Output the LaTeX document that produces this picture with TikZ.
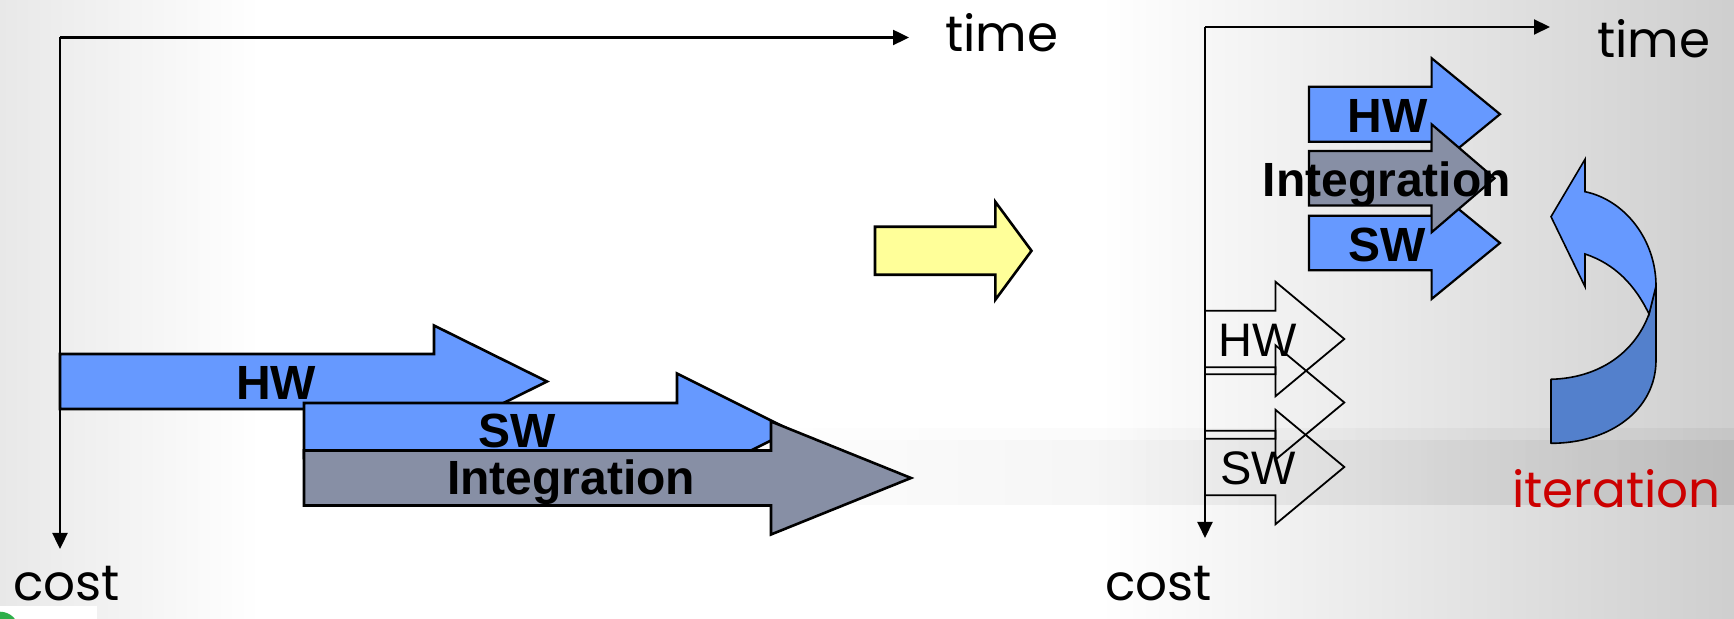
\documentclass[tikz,border=0pt]{standalone}
\usepackage{fontspec}
\setmainfont{Liberation Sans}
\newfontfamily\comicfont{Poppins}
\usetikzlibrary{arrows.meta,fadings}
\definecolor{hwblue}{HTML}{6699FF}
\definecolor{intgray}{HTML}{878FA5}
\definecolor{yel}{HTML}{FFFF99}
\definecolor{darkblue}{HTML}{5380CC}
\definecolor{itred}{HTML}{CC0000}
\definecolor{grn}{HTML}{2EAE4A}
% style, x-left, y-centre, body half height, head base x, head half height, tip x
\newcommand\blkarrow[7]{\draw[#1] (#2,#3-#4) -- (#5,#3-#4) -- (#5,#3-#6) -- (#7,#3) -- (#5,#3+#6) -- (#5,#3+#4) -- (#2,#3+#4) -- cycle;}
\tikzset{
  bigline/.style={draw=black, line width=1.3pt, line join=miter},
  smallline/.style={draw=black, line width=1.1pt, line join=miter},
  hollow/.style={draw=black, line width=0.9pt, line join=miter},
  axis/.style={draw=black, line width=1.2pt, -{Triangle[length=8pt,width=7.5pt]}},
  boldlbl/.style={font=\fontsize{24}{24}\selectfont\bfseries, inner sep=0pt, anchor=base},
  plainlbl/.style={font=\fontsize{23.5}{24}\selectfont, inner sep=0pt, anchor=base},
  hand/.style={font=\fontsize{25}{26}\comicfont, inner sep=0pt, anchor=base west},
}
\begin{document}
\begin{tikzpicture}[x=0.5pt, y=-0.5pt]
\useasboundingbox (0,0) rectangle (1734,619);
% background
\fill[white] (0,0) rectangle (1734,619);
\shade[left color=black!9, right color=white] (0,0) rectangle (260,619);
\shade[left color=white, right color=black!19] (1100,0) rectangle (1734,619);
\fill[black, opacity=0.09, path fading=west] (650,440) rectangle (1734,505);
\fill[black, opacity=0.04, path fading=west] (650,428) rectangle (1734,440);
\fill[white] (0,606) rectangle (97,619);
\fill[grn] (0,630.7) circle (19);

% ---------- left diagram ----------
\coordinate (lo) at (60,37.5);
\coordinate (lt) at (909,37.5);
\coordinate (lc) at (60,549);
\draw[axis] (lo) -- (lt);
\draw[axis] (lo) -- (lc);
\node[hand] (ltime) at (945,51.3) {time};
\node[hand] (lcost) at (13,601) {cost};

\blkarrow{bigline,fill=hwblue}{60}{381.5}{27.5}{434}{56}{547}
\node[boldlbl] (lhw) at (276,400) {HW};
\blkarrow{bigline,fill=hwblue}{304}{430.5}{27.5}{677}{57}{791}
\node[boldlbl] (lsw) at (517.6,448) {SW};
\blkarrow{bigline,fill=intgray}{304}{478}{27.5}{771}{56.5}{911}
\node[boldlbl] (lint) at (571,495) {Integration};

% ---------- transition arrow ----------
\blkarrow{bigline,fill=yel}{875}{250.8}{24}{995.3}{49}{1031.5}

% ---------- right diagram ----------
\coordinate (ro) at (1205,27);
\coordinate (rt) at (1550,27);
\coordinate (rc) at (1205,538);
\draw[axis, line width=1pt] (ro) -- (rt);
\draw[axis, line width=1pt] (ro) -- (rc);
\node[hand] (rtime) at (1597,57.2) {time};
\node[hand] (rcost) at (1105,600) {cost};

\blkarrow{smallline,fill=hwblue}{1309}{114.2}{27.5}{1431.6}{56}{1500}
\node[boldlbl] (rhw) at (1387.5,132.7) {HW};
\blkarrow{smallline,fill=hwblue}{1309}{243}{27.3}{1431.6}{56}{1500}
\node[boldlbl] (rsw) at (1387.6,261.7) {SW};
\blkarrow{smallline,fill=intgray}{1309}{178.3}{27.3}{1431.6}{54}{1494.5}
\node[boldlbl] (rint) at (1386.8,196.7) {Integration};

\blkarrow{hollow}{1205}{339}{28.3}{1275.4}{57.3}{1344.3}
\blkarrow{hollow}{1205}{402.5}{28.3}{1275.4}{57.3}{1344.3}
\blkarrow{hollow}{1205}{467}{28.3}{1275.4}{57.3}{1344.3}
\node[plainlbl] (whw) at (1257.8,356.7) {HW};
\node[plainlbl] (wsw) at (1258,485) {SW};

% iteration curved arrow
\draw[fill=darkblue, draw=black, line width=0.8pt, line join=round]
  (1656,286) -- (1656,360) .. controls (1656,410) and (1610,443.3) .. (1551,443.3)
  -- (1551,379.3) .. controls (1600,378) and (1635,352) .. (1649,314) -- cycle;
\draw[fill=hwblue, draw=black, line width=0.8pt, line join=miter]
  (1585,191.7) .. controls (1625,200) and (1656,240) .. (1656,286)
  -- (1649,314) .. controls (1635,285) and (1615,264) .. (1585,254)
  -- (1585,286.7) -- (1551,216.7) -- (1585,159.3) -- cycle;
\node[hand, text=itred] (iter) at (1512,508) {iteration};
\end{tikzpicture}
\end{document}
